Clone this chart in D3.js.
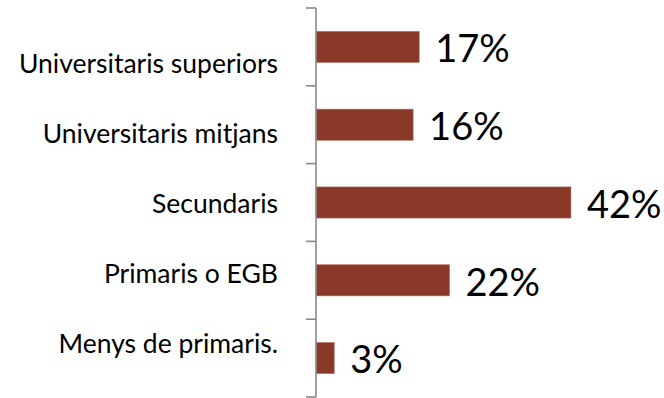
<!DOCTYPE html>
<html>
<head>
<meta charset="utf-8">
<script src="https://cdn.jsdelivr.net/npm/d3@7/dist/d3.min.js"></script>
<style>
  html, body { margin: 0; padding: 0; background: #fff; }
  svg { display: block; }
  text { font-family: Lato, "Open Sans", sans-serif; fill: #000; }
</style>
</head>
<body>
<svg id="chart" width="664" height="398"></svg>
<script>
// Education level categories (top to bottom) and their shares in %
const categories = [
  "Universitaris superiors",
  "Universitaris mitjans",
  "Secundaris",
  "Primaris o EGB",
  "Menys de primaris."
];
const values = [17, 16, 42, 22, 3];
const valueLabels = ["17%", "16%", "42%", "22%", "3%"];

const svg = d3.select("#chart");
const axisX = 316;

const x = d3.scaleLinear().domain([0, 45]).range([axisX, axisX + 45 * 6.07]);
const y = d3.scaleBand().domain(categories).range([8, 397]).paddingInner(0.6).paddingOuter(0.3);
// category labels sit on their own evenly spaced rows
const yLabel = d3.scalePoint().domain(categories).range([64, 344]);

// bars
svg.append("g").selectAll("rect")
  .data(categories)
  .join("rect")
  .attr("x", axisX)
  .attr("y", d => y(d))
  .attr("width", (d, i) => x(values[i]) - axisX)
  .attr("height", y.bandwidth())
  .attr("fill", "#8a3828")
  .attr("stroke", "#b5705f")
  .attr("stroke-width", 0.6);

// vertical axis with tick marks at band boundaries
const step = y.step();
const boundaries = d3.range(categories.length + 1).map(i => y.range()[0] + i * step);
const axisG = svg.append("g").attr("stroke", "#8a8a8a").attr("stroke-width", 1.6);
axisG.append("line")
  .attr("x1", axisX).attr("x2", axisX)
  .attr("y1", boundaries[0]).attr("y2", boundaries[boundaries.length - 1]);
axisG.selectAll("line.tick")
  .data(boundaries)
  .join("line")
  .attr("class", "tick")
  .attr("x1", axisX - 10).attr("x2", axisX)
  .attr("y1", d => d).attr("y2", d => d);

// category labels
const labelAxis = d3.axisLeft(yLabel).tickSize(0).tickPadding(0);
const la = svg.append("g").attr("transform", `translate(${axisX - 38},0)`).call(labelAxis);
la.select(".domain").remove();
la.selectAll("text")
  .attr("font-family", "Lato, 'Open Sans', sans-serif")
  .attr("font-size", 26.5)
  .attr("fill", "#000");

// value labels
svg.append("g").selectAll("text")
  .data(categories)
  .join("text")
  .attr("x", (d, i) => x(values[i]) + 16)
  .attr("y", d => y(d) + y.bandwidth() / 2 + 2)
  .attr("dy", "0.35em")
  .attr("font-size", 38)
  .text((d, i) => valueLabels[i]);
</script>
</body>
</html>
